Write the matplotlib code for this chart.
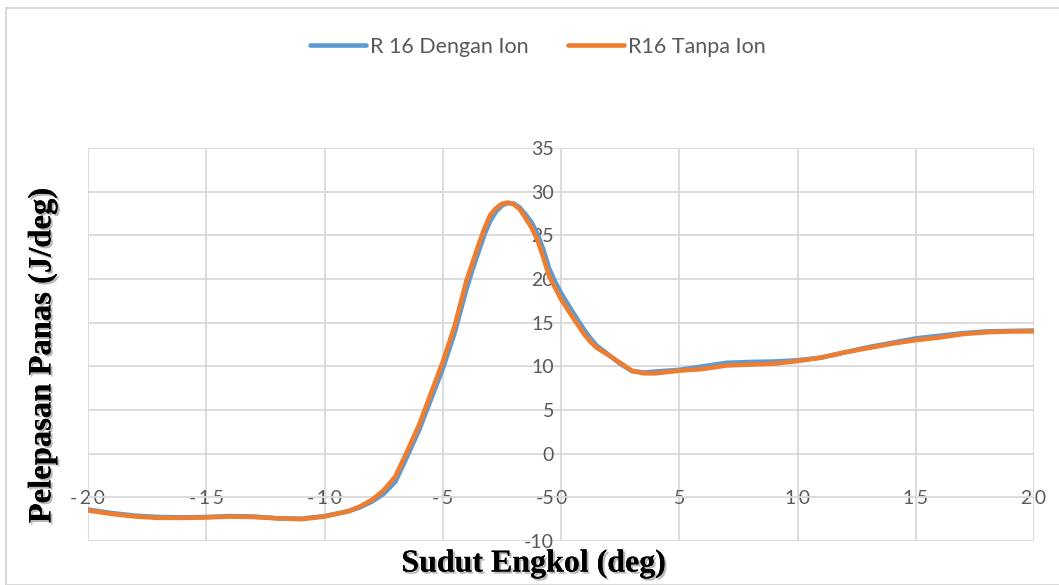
import matplotlib
matplotlib.use("Agg")
import matplotlib.pyplot as plt
import matplotlib.patheffects as pe
from matplotlib.patches import Rectangle

plt.rcParams["axes.unicode_minus"] = False

# Crank angle (deg)
angle = [-20, -19, -18, -17, -16, -15, -14, -13, -12, -11, -10, -9, -8.5, -8, -7.5, -7,
         -6.5, -6, -5.5, -5, -4.5, -4, -3.75, -3.5, -3.25, -3, -2.75, -2.5, -2.25,
         -2, -1.75, -1.5, -1.25, -1, -0.75, -0.5, -0.25, 0, 0.5, 1, 1.25, 1.5, 2,
         2.5, 3, 3.5, 4, 5, 6, 7, 8, 9, 10, 11, 12, 13, 14, 15, 16, 17, 18, 19, 20]

# Heat release rate (J/deg), with ionizer
heat_dengan = [-6.4, -6.8, -7.1, -7.25, -7.3, -7.25, -7.15, -7.2, -7.4, -7.45, -7.15,
               -6.6, -6.15, -5.5, -4.6, -3.2, -0.3, 2.7, 6.2, 9.7, 13.8, 18.8, 21.0,
               23.0, 25.0, 26.6, 27.7, 28.4, 28.7, 28.65, 28.2, 27.4, 26.5, 25.2, 23.4,
               21.2, 19.7, 18.4, 16.2, 14.1, 13.2, 12.4, 11.35, 10.3, 9.45, 9.3, 9.4,
               9.6, 10.0, 10.4, 10.5, 10.55, 10.7, 11.0, 11.6, 12.2, 12.7, 13.2, 13.5,
               13.8, 14.0, 14.05, 14.1]

# Heat release rate (J/deg), without ionizer
heat_tanpa = [-6.5, -6.9, -7.2, -7.35, -7.35, -7.3, -7.2, -7.25, -7.4, -7.5, -7.2,
              -6.6, -6.05, -5.3, -4.2, -2.6, 0.3, 3.3, 6.9, 10.5, 14.6, 19.8, 21.8,
              23.8, 25.7, 27.3, 28.1, 28.6, 28.75, 28.55, 28.0, 27.0, 25.9, 24.5, 22.5,
              20.3, 19.0, 17.7, 15.6, 13.6, 12.8, 12.15, 11.3, 10.4, 9.5, 9.2, 9.2,
              9.5, 9.7, 10.1, 10.2, 10.3, 10.6, 11.0, 11.6, 12.1, 12.6, 13.0, 13.3,
              13.7, 13.9, 14.0, 14.0]

series_names = ["R 16 Dengan Ion", "R16 Tanpa Ion"]
x_ticks = [-20, -15, -10, -5, 0, 5, 10, 15, 20]
y_ticks = [-10, -5, 0, 5, 10, 15, 20, 25, 30, 35]

BLUE = "#5B9BD5"
ORANGE = "#ED7D31"
GRID = "#D9D9D9"
TEXT = "#595959"

fig = plt.figure(figsize=(10.59, 5.85), dpi=100)
W, H = 1059, 585

# chart-area border
fig.patches.append(Rectangle((6 / W, 0), 1.2, 1 - 8 / H, transform=fig.transFigure,
                             fill=False, edgecolor="#D9D9D9", linewidth=1.5, zorder=0))

ax = fig.add_axes([88 / W, 1 - 541 / H, (1034 - 88) / W, (541 - 148) / H])
ax.set_xlim(-20, 20)
ax.set_ylim(-10, 35)

ax.plot(angle, heat_dengan, color=BLUE, lw=3.3, solid_capstyle="round",
        solid_joinstyle="round", label=series_names[0], zorder=3)
ax.plot(angle, heat_tanpa, color=ORANGE, lw=3.3, solid_capstyle="round",
        solid_joinstyle="round", label=series_names[1], zorder=4)

ax.set_xticks(x_ticks)
ax.set_yticks(y_ticks)
ax.grid(True, color=GRID, lw=1.3)
ax.set_axisbelow(True)
for s in ax.spines.values():
    s.set_visible(False)

# axes cross at the origin
ax.spines["left"].set_position(("data", 0))
ax.spines["bottom"].set_position(("data", 0))
ax.tick_params(axis="both", length=0, labelcolor=TEXT, labelsize=14)
ax.tick_params(axis="x", pad=26)
ax.tick_params(axis="y", pad=5)
for lab in ax.get_yticklabels():
    lab.set_fontfamily("Lato")
ax.set_xticklabels(["\u2009".join(str(t)) for t in x_ticks],
                   fontfamily=["Lato", "DejaVu Sans"])

shadow = [pe.withSimplePatchShadow(offset=(1.5, -1.5), shadow_rgbFace="#888888", alpha=0.6),
          pe.Normal()]
fig.text(534 / W, 1 - 564 / H, "Sudut Engkol (deg)", ha="center", va="center",
         fontfamily="Liberation Serif", fontweight="bold", fontsize=23,
         path_effects=shadow)
fig.text(42 / W, 1 - 356 / H, "Pelepasan Panas (J/deg)", ha="center", va="center",
         rotation=90, fontfamily="Liberation Serif", fontweight="bold", fontsize=23.5,
         path_effects=shadow)

leg = fig.legend(loc="center", bbox_to_anchor=(538 / W, 1 - 47 / H), ncol=2,
                 frameon=False, handlelength=2.6, handletextpad=0.2, columnspacing=1.8,
                 prop={"family": "Lato", "size": 15.5})
for t in leg.get_texts():
    t.set_color(TEXT)

fig.savefig("out.png", dpi=100)
